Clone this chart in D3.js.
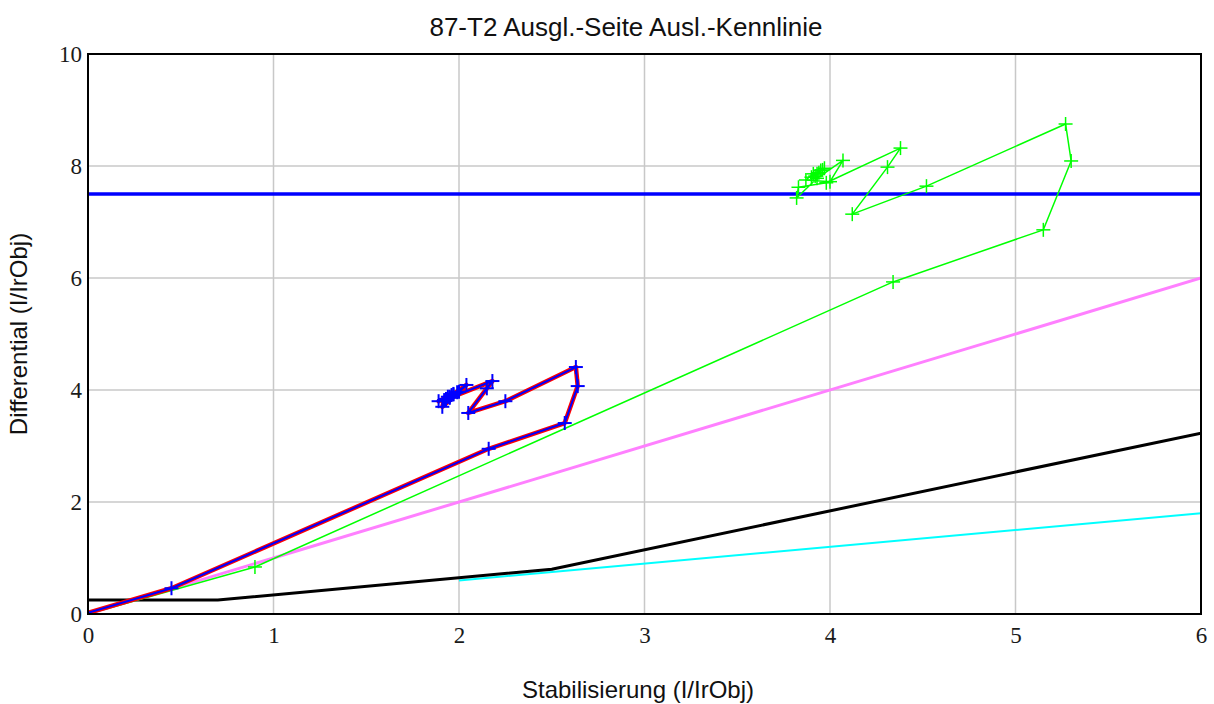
<!DOCTYPE html>
<html><head><meta charset="utf-8">
<script src="https://cdn.jsdelivr.net/npm/d3@7"></script>
<style>body{margin:0;background:#fff}svg{display:block}</style>
</head><body>
<svg id="c" width="1214" height="704"></svg>
<script>
const title = "87-T2 Ausgl.-Seite Ausl.-Kennlinie";
const xTitle = "Stabilisierung (I/IrObj)";
const yTitle = "Differential (I/IrObj)";
const xTicks = [0,1,2,3,4,5,6];
const yTicks = [0,2,4,6,8,10];

// characteristic lines
const pickupLine = [[0,7.5],[6,7.5]];           // blue horizontal
const diagLine = [[0,0],[6,6]];                 // pink
const tripChar = [[0,0.25],[0.7,0.25],[2.5,0.8],[6,3.23]]; // black
const cyanA = [[0,0],[2,0]];
const cyanB = [[2,0.6],[6,1.8]];

// blue trajectory (with red underlay)
const blueX = [0,0.45,2.16,2.57,2.64,2.63,2.25,2.05,2.15,2.18,1.92,1.91,2.04,1.95,2.00,1.89,1.97,1.93,1.99,1.95,1.96,1.94,1.97];
const blueY = [0.02,0.46,2.95,3.41,4.07,4.41,3.80,3.59,4.03,4.16,3.82,3.70,4.09,3.88,3.97,3.80,3.93,3.84,3.96,3.86,3.91,3.88,3.92];

// green trajectory
const greenX = [0,0.90,4.34,5.15,5.30,5.27,4.52,4.12,4.31,4.38,3.98,3.83,3.82,3.93,4.07,4.00,3.87,3.91,3.95,3.92,3.97,3.90,3.94,3.96,3.93];
const greenY = [0,0.84,5.93,6.86,8.09,8.75,7.64,7.14,7.98,8.32,7.70,7.62,7.43,7.78,8.10,7.72,7.75,7.86,7.92,7.82,7.96,7.80,7.88,7.93,7.86];

const svg = d3.select("#c");
const L=88, R=1201, T=54, B=614;
const x = d3.scaleLinear().domain([0,6]).range([L,R]);
const y = d3.scaleLinear().domain([0,10]).range([B,T]);

svg.append("defs").append("clipPath").attr("id","clip")
  .append("rect").attr("x",L).attr("y",T-2).attr("width",R-L).attr("height",B-T+2);

// grid
const g = svg.append("g");
g.selectAll(".gx").data(xTicks.slice(1,-1)).join("line")
  .attr("x1",d=>x(d)).attr("x2",d=>x(d)).attr("y1",T).attr("y2",B)
  .attr("stroke","#c8c8c8").attr("stroke-width",1.5);
g.selectAll(".gy").data(yTicks.slice(1,-1)).join("line")
  .attr("y1",d=>y(d)).attr("y2",d=>y(d)).attr("x1",L).attr("x2",R)
  .attr("stroke","#c8c8c8").attr("stroke-width",1.5);

const line = d3.line().x(d=>x(d[0])).y(d=>y(d[1]));
const plot = svg.append("g").attr("clip-path","url(#clip)");

function path(data,color,w){
  plot.append("path").datum(data).attr("d",line).attr("fill","none")
    .attr("stroke",color).attr("stroke-width",w).attr("stroke-linejoin","round");
}
path(cyanA,"#00ffff",2);
path(cyanB,"#00ffff",2);
path(tripChar,"#000000",3);
path(diagLine,"#ff80ff",3);
path(pickupLine,"#0000ff",3.5);

const greenPts = greenX.map((v,i)=>[v,greenY[i]]);
path(greenPts,"#00ff00",1.5);
const bluePts = blueX.map((v,i)=>[v,blueY[i]]);
path(bluePts,"#ff0000",4.5);
path(bluePts,"#0000ff",2);

function plus(pts,color,w,s){
  const gg = plot.append("g").attr("stroke",color).attr("stroke-width",w);
  pts.slice(1).forEach(p=>{
    gg.append("line").attr("x1",x(p[0])-s).attr("x2",x(p[0])+s).attr("y1",y(p[1])).attr("y2",y(p[1]));
    gg.append("line").attr("x1",x(p[0])).attr("x2",x(p[0])).attr("y1",y(p[1])-s).attr("y2",y(p[1])+s);
  });
}
plus(greenPts,"#00ff00",1.5,7);
plus(bluePts,"#0000ff",2,7);

// frame
svg.append("rect").attr("x",L).attr("y",T).attr("width",R-L).attr("height",B-T)
  .attr("fill","none").attr("stroke","#000").attr("stroke-width",2);

// axes labels
const serif = "'Liberation Serif','Times New Roman',serif";
const sans = "'Liberation Sans',Arial,sans-serif";
const xa = svg.append("g").attr("transform",`translate(0,${B})`)
  .call(d3.axisBottom(x).tickValues(xTicks).tickFormat(d3.format("d")).tickSize(0).tickPadding(13));
xa.select(".domain").remove();
xa.selectAll("text").attr("font-family",serif).attr("font-size",23).attr("fill","#1a1a1a");
const ya = svg.append("g").attr("transform",`translate(${L},0)`)
  .call(d3.axisLeft(y).tickValues(yTicks).tickFormat(d3.format("d")).tickSize(0).tickPadding(6));
ya.select(".domain").remove();
ya.selectAll("text").attr("font-family",serif).attr("font-size",23).attr("fill","#1a1a1a");

svg.append("text").attr("x",626).attr("y",36).attr("text-anchor","middle")
  .attr("font-family",sans).attr("font-size",26).attr("fill","#111").text(title);
svg.append("text").attr("x",638).attr("y",698).attr("text-anchor","middle")
  .attr("font-family",sans).attr("font-size",24).attr("fill","#111").text(xTitle);
svg.append("text").attr("transform","translate(27,334) rotate(-90)").attr("text-anchor","middle")
  .attr("font-family",sans).attr("font-size",24).attr("fill","#111").text(yTitle);
</script>
</body></html>
